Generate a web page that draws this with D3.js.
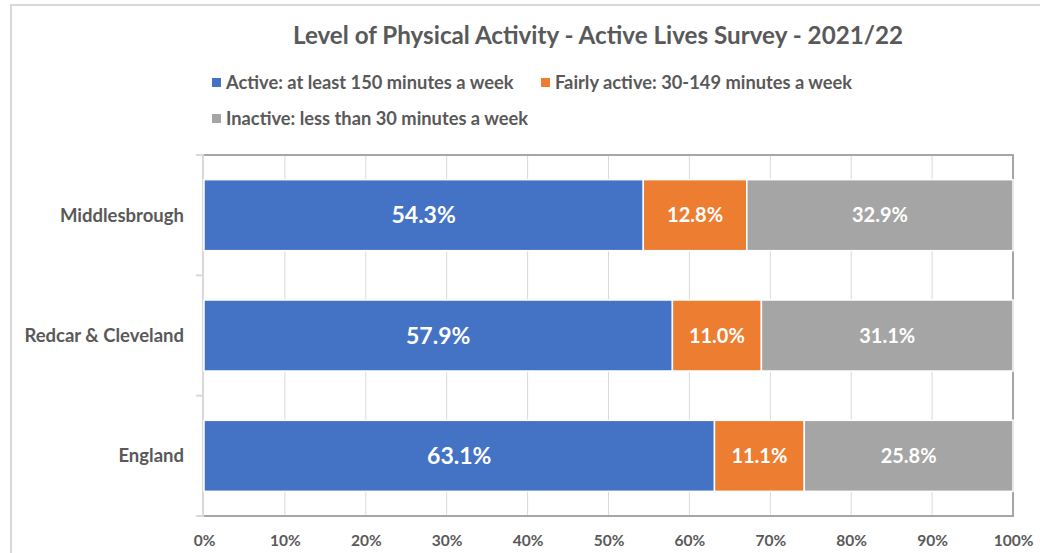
<!DOCTYPE html>
<html>
<head>
<meta charset="utf-8">
<script src="https://cdn.jsdelivr.net/npm/d3@7"></script>
<style>
  body { margin: 0; background: #fff; }
  text { font-family: Lato, "Open Sans", sans-serif; font-weight: bold; }
</style>
</head>
<body>
<div id="chart"></div>
<script>
// data
const categories = ["Middlesbrough", "Redcar & Cleveland", "England"];
const seriesNames = ["Active: at least 150 minutes a week", "Fairly active: 30-149 minutes a week", "Inactive: less than 30 minutes a week"];
const active = [54.3, 57.9, 63.1];
const fairlyActive = [12.8, 11.0, 11.1];
const inactive = [32.9, 31.1, 25.8];
const tickValues = [0, 10, 20, 30, 40, 50, 60, 70, 80, 90, 100];
const colors = ["#4472C4", "#ED7D31", "#A5A5A5"];

const W = 1040, H = 553;
const plot = {left: 204, right: 1013, top: 155, bottom: 516};

const svg = d3.select("#chart").append("svg")
    .attr("width", W)
    .attr("height", H);

// outer chart frame (cut off on the right and bottom)
svg.append("path")
    .attr("d", `M11,${H + 5} V5 H${W + 5}`)
    .attr("fill", "none")
    .attr("stroke", "#d9d9d9")
    .attr("stroke-width", 2);

const x = d3.scaleLinear().domain([0, 100]).range([plot.left, plot.right]);
const y = d3.scaleBand().domain(categories).range([plot.top, plot.bottom]).paddingInner(0.41).paddingOuter(0.205);

// gridlines
svg.append("g")
    .selectAll("line")
    .data(tickValues.slice(1, -1))
    .join("line")
    .attr("x1", d => x(d)).attr("x2", d => x(d))
    .attr("y1", plot.top).attr("y2", plot.bottom)
    .attr("stroke", "#d9d9d9")
    .attr("stroke-width", 1);

// category axis (light) with ticks between bands
const step = (plot.bottom - plot.top) / categories.length;
svg.append("line")
    .attr("x1", plot.left - 1).attr("x2", plot.left - 1)
    .attr("y1", plot.top).attr("y2", plot.bottom)
    .attr("stroke", "#d9d9d9").attr("stroke-width", 2);
svg.append("g")
    .selectAll("line")
    .data(d3.range(categories.length + 1))
    .join("line")
    .attr("x1", plot.left - 8).attr("x2", plot.left)
    .attr("y1", i => plot.top + i * step).attr("y2", i => plot.top + i * step)
    .attr("stroke", "#d9d9d9").attr("stroke-width", 2);

// darker frame lines: top, bottom, right
svg.append("path")
    .attr("d", `M${plot.left},${plot.top} H${plot.right} V${plot.bottom} H${plot.left}`)
    .attr("fill", "none")
    .attr("stroke", "#a6a6a6")
    .attr("stroke-width", 2);

// stacked bars
const rows = categories.map((c, i) => ({cat: c, vals: [active[i], fairlyActive[i], inactive[i]]}));
const segs = [];
rows.forEach(r => {
    let acc = 0;
    r.vals.forEach((v, k) => {
        segs.push({cat: r.cat, k: k, v: v, x0: acc, x1: acc + v});
        acc += v;
    });
});

svg.append("g")
    .selectAll("rect")
    .data(segs)
    .join("rect")
    .attr("x", d => x(d.x0))
    .attr("y", d => y(d.cat))
    .attr("width", d => x(d.x1) - x(d.x0))
    .attr("height", y.bandwidth())
    .attr("fill", d => colors[d.k])
    .attr("stroke", "#fff")
    .attr("stroke-width", 1.5);

svg.append("g")
    .selectAll("text")
    .data(segs)
    .join("text")
    .attr("x", d => x((d.x0 + d.x1) / 2))
    .attr("y", d => y(d.cat) + y.bandwidth() / 2)
    .attr("dy", "0.35em")
    .attr("text-anchor", "middle")
    .attr("fill", "#fff")
    .attr("font-size", d => d.k === 0 ? 23 : 20)
    .text(d => d.v.toFixed(1) + "%");

// category labels
svg.append("g")
    .selectAll("text")
    .data(categories)
    .join("text")
    .attr("x", 184)
    .attr("y", d => y(d) + y.bandwidth() / 2)
    .attr("dy", "0.35em")
    .attr("text-anchor", "end")
    .attr("fill", "#595959")
    .attr("font-size", 18.5)
    .text(d => d);

// value axis labels
const xAxis = d3.axisBottom(x)
    .tickValues(tickValues)
    .tickFormat(d => d + "%")
    .tickSize(0)
    .tickPadding(18);
const xg = svg.append("g")
    .attr("transform", `translate(0,${plot.bottom + 1})`)
    .call(xAxis);
xg.select(".domain").remove();
xg.selectAll("text")
    .attr("fill", "#595959")
    .attr("font-size", 15.5)
    .attr("font-family", "Lato, sans-serif")
    .attr("font-weight", "bold");

// title
svg.append("text")
    .attr("x", 598)
    .attr("y", 44)
    .attr("text-anchor", "middle")
    .attr("fill", "#595959")
    .attr("font-size", 24.2)
    .text("Level of Physical Activity - Active Lives Survey - 2021/22");

// legend
const legendPos = [{x: 212, y: 83}, {x: 541, y: 83}, {x: 212, y: 119}];
const lg = svg.append("g")
    .selectAll("g")
    .data(seriesNames)
    .join("g")
    .attr("transform", (d, i) => `translate(${legendPos[i].x},${legendPos[i].y})`);
lg.append("rect")
    .attr("x", 0).attr("y", -5)
    .attr("width", 9).attr("height", 9)
    .attr("fill", (d, i) => colors[i]);
lg.append("text")
    .attr("x", 14)
    .attr("dy", "0.35em")
    .attr("fill", "#595959")
    .attr("font-size", 18.3)
    .text(d => d);
</script>
</body>
</html>
